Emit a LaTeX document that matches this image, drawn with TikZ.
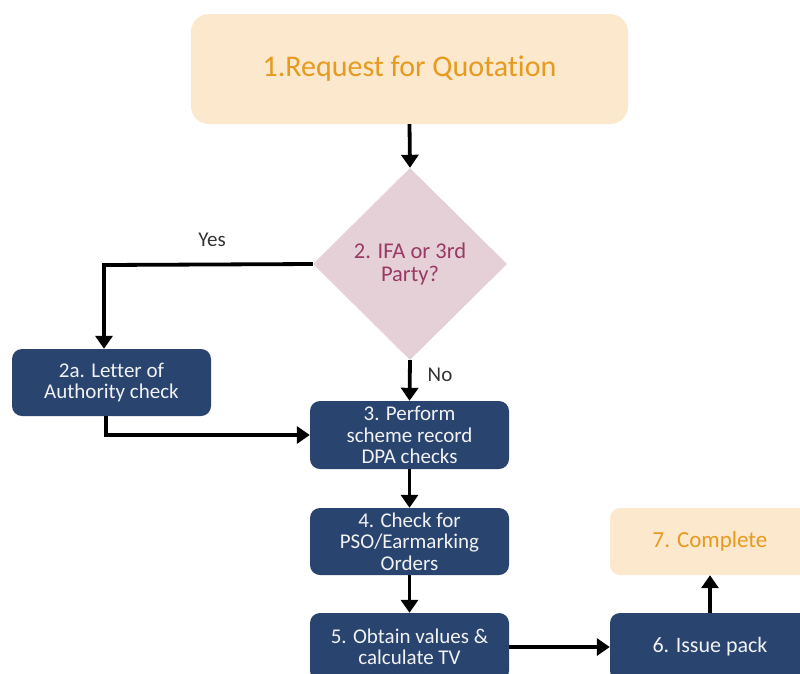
\documentclass[tikz,border=0pt]{standalone}
\usepackage{fontspec}
\setmainfont{Carlito}[Ligatures=NoCommon]
\usetikzlibrary{shapes.geometric,arrows.meta}
\definecolor{bluebox}{HTML}{28446F}
\definecolor{orfill}{HTML}{FBE8CD}
\definecolor{ortext}{HTML}{E69A1E}
\definecolor{dmfill}{HTML}{E6D0D8}
\definecolor{dmtext}{HTML}{983A63}
\definecolor{lbl}{HTML}{333333}
\tikzset{
  bluestep/.style={rectangle, rounded corners=10pt, fill=bluebox, text=white!95!black,
    minimum width=200pt, minimum height=68pt, inner sep=0pt, align=center,
    font=\fontsize{21}{21.5}\selectfont},
  orstep/.style={rectangle, fill=orfill, text=ortext, inner sep=0pt, align=center},
  decision/.style={diamond, fill=dmfill, text=dmtext, inner sep=0pt, align=center,
    minimum width=194pt, minimum height=192pt, font=\fontsize{22.5}{23}\selectfont},
  flow/.style={line width=3.8pt, -{Triangle[width=17pt,length=13pt]}},
  lab/.style={text=lbl, font=\fontsize{21}{22}\selectfont}
}
\begin{document}
\begin{tikzpicture}[x=1pt,y=-1pt]
\useasboundingbox (0,0) rectangle (800,673);
\clip (0,0) rectangle (800,673);
\node[orstep, rounded corners=18pt, minimum width=437pt, minimum height=110pt,
  font=\fontsize{30}{32}\selectfont] (q1) at (409.5,69) {1.Request for Quotation};
\node[decision] (d2) at (410,264) {2. IFA or 3rd\\Party?};
\node[bluestep, minimum width=199pt, minimum height=67pt] (b2a) at (111.5,382.5) {2a. Letter of\\Authority check};
\node[bluestep, minimum width=199pt] (b3) at (409.5,435) {3. Perform\\scheme record\\DPA checks};
\node[bluestep, minimum width=199pt, minimum height=67pt] (b4) at (409.5,541.5) {4. Check for\\PSO/Earmarking\\Orders};
\node[bluestep, minimum width=199pt] (b5) at (409.5,647) {5. Obtain values \&\\calculate TV};
\node[bluestep, font=\fontsize{22}{24}\selectfont] (b6) at (710,647) {6. Issue pack};
\node[orstep, rounded corners=10pt, minimum width=200pt, minimum height=67pt,
  font=\fontsize{23}{25}\selectfont] (b7) at (710,541.5) {7. Complete};

\coordinate (yc) at (104,265);
\coordinate (lc) at (106,435);
\draw[flow] (q1.south) -- (d2.north);
\draw[flow] (d2.west) -- (yc) -- (yc |- b2a.north);
\draw[flow] (d2.south) -- (b3.north);
\draw[flow] (b2a.south -| lc) -- (lc) -- (lc -| b3.west);
\draw[flow] (b3.south) -- (b4.north);
\draw[flow] (b4.south) -- (b5.north);
\draw[flow] (b5.east) -- (b6.west);
\draw[flow] (b6.north) -- (b7.south);
\node[lab] (yes) at (212,240) {Yes};
\node[lab] (no) at (440,375) {No};
\end{tikzpicture}
\end{document}
